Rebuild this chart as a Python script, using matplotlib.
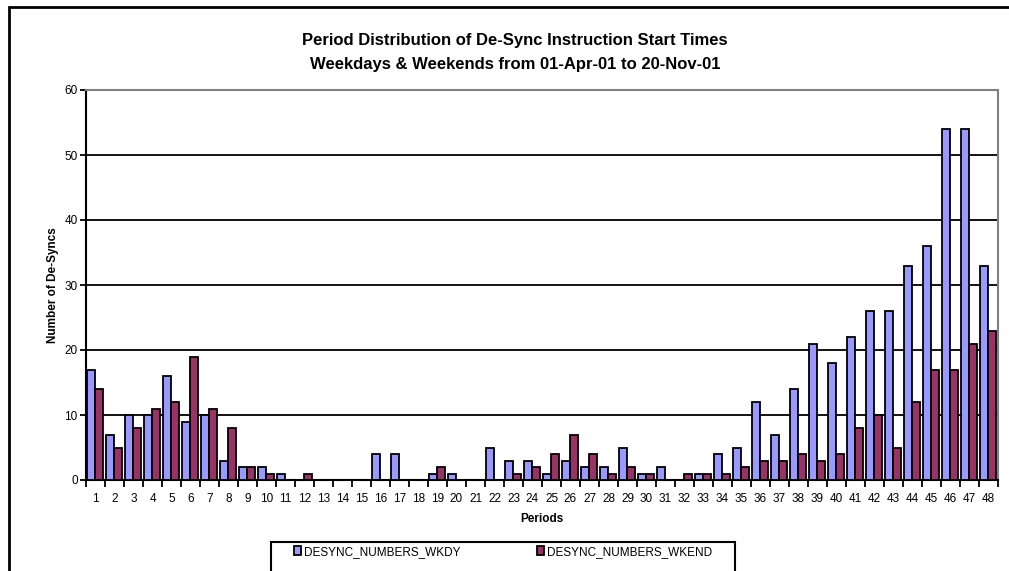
import matplotlib
matplotlib.use("Agg")
import matplotlib.pyplot as plt
from matplotlib.patches import Rectangle
import numpy as np

plt.rcParams['font.family'] = ['Liberation Sans', 'DejaVu Sans']

periods = list(range(1, 49))
wkdy = [17, 7, 10, 10, 16, 9, 10, 3, 2, 2, 1, 0, 0, 0, 0, 4, 4, 0, 1, 1, 0, 5, 3, 3,
        1, 3, 2, 2, 5, 1, 2, 0, 1, 4, 5, 12, 7, 14, 21, 18, 22, 26, 26, 33, 36, 54, 54, 33]
wkend = [14, 5, 8, 11, 12, 19, 11, 8, 2, 1, 0, 1, 0, 0, 0, 0, 0, 0, 2, 0, 0, 0, 1, 2,
         4, 7, 4, 1, 2, 1, 0, 1, 1, 1, 2, 3, 3, 4, 3, 4, 8, 10, 5, 12, 17, 17, 21, 23]
series_names = ['DESYNC_NUMBERS_WKDY', 'DESYNC_NUMBERS_WKEND']
colors = ['#9999FF', '#993366']
title_lines = ['Period Distribution of De-Sync Instruction Start Times',
               'Weekdays & Weekends from 01-Apr-01 to 20-Nov-01']

W, H = 1009, 571
fig = plt.figure(figsize=(W / 100, H / 100), dpi=100)
ax = fig.add_axes([86 / W, 1 - 480 / H, (998 - 86) / W, (480 - 90) / H])

x = np.array(periods, dtype=float)
bw = 0.43
off = -0.03
ax.bar(x + off - bw / 2, wkdy, width=bw, color=colors[0], edgecolor='black', linewidth=1.3,
       label=series_names[0], zorder=3)
ax.bar(x + off + bw / 2, wkend, width=bw, color=colors[1], edgecolor='black', linewidth=1.3,
       label=series_names[1], zorder=3)

ax.set_xlim(0.5, 48.5)
ax.set_ylim(0, 60)
ax.set_yticks(range(0, 61, 10))
ax.yaxis.grid(True, color='black', linewidth=1.3, zorder=0)
ax.set_axisbelow(True)

ax.set_xticks(x)
ax.set_xticklabels([str(p) for p in periods], fontsize=8.5)
ax.set_xticks(np.arange(0.5, 49, 1), minor=True)
ax.tick_params(axis='x', which='major', length=0, pad=9)
ax.tick_params(axis='x', which='minor', length=5, width=1.3, direction='out', color='black')
ax.tick_params(axis='y', length=4, width=1.3, direction='out', labelsize=8.5, pad=2)

for s in ['top', 'right']:
    ax.spines[s].set_color('#808080')
    ax.spines[s].set_linewidth(1.5)
for s in ['left', 'bottom']:
    ax.spines[s].set_color('black')
    ax.spines[s].set_linewidth(1.5)

ax.set_xlabel('Periods', fontsize=8.5, fontweight='bold', labelpad=6)
ax.set_ylabel('Number of De-Syncs', fontsize=8.5, fontweight='bold', labelpad=4)

fig.text(515 / W, 1 - 40 / H, title_lines[0], ha='center', va='center', fontsize=12, fontweight='bold')
fig.text(515 / W, 1 - 65 / H, title_lines[1], ha='center', va='center', fontsize=12, fontweight='bold')

# outer chart border
fig.add_artist(Rectangle((9 / W, -0.1), 1.2, 1 - 7 / H + 0.1, transform=fig.transFigure,
                         fill=False, edgecolor='black', linewidth=2))
# legend box
fig.add_artist(Rectangle((271 / W, -0.1), (735 - 271) / W, 1 - 542 / H + 0.1, transform=fig.transFigure,
                         fill=False, edgecolor='black', linewidth=1.5))
handles, labels = ax.get_legend_handles_labels()
fig.legend(handles, labels, loc='center', bbox_to_anchor=(503 / W, 1 - 552 / H), ncol=2,
           frameon=False, fontsize=8.5, handlelength=0.6, handleheight=0.8, handletextpad=0.2,
           columnspacing=6.5)

fig.savefig('out.png', dpi=100)
